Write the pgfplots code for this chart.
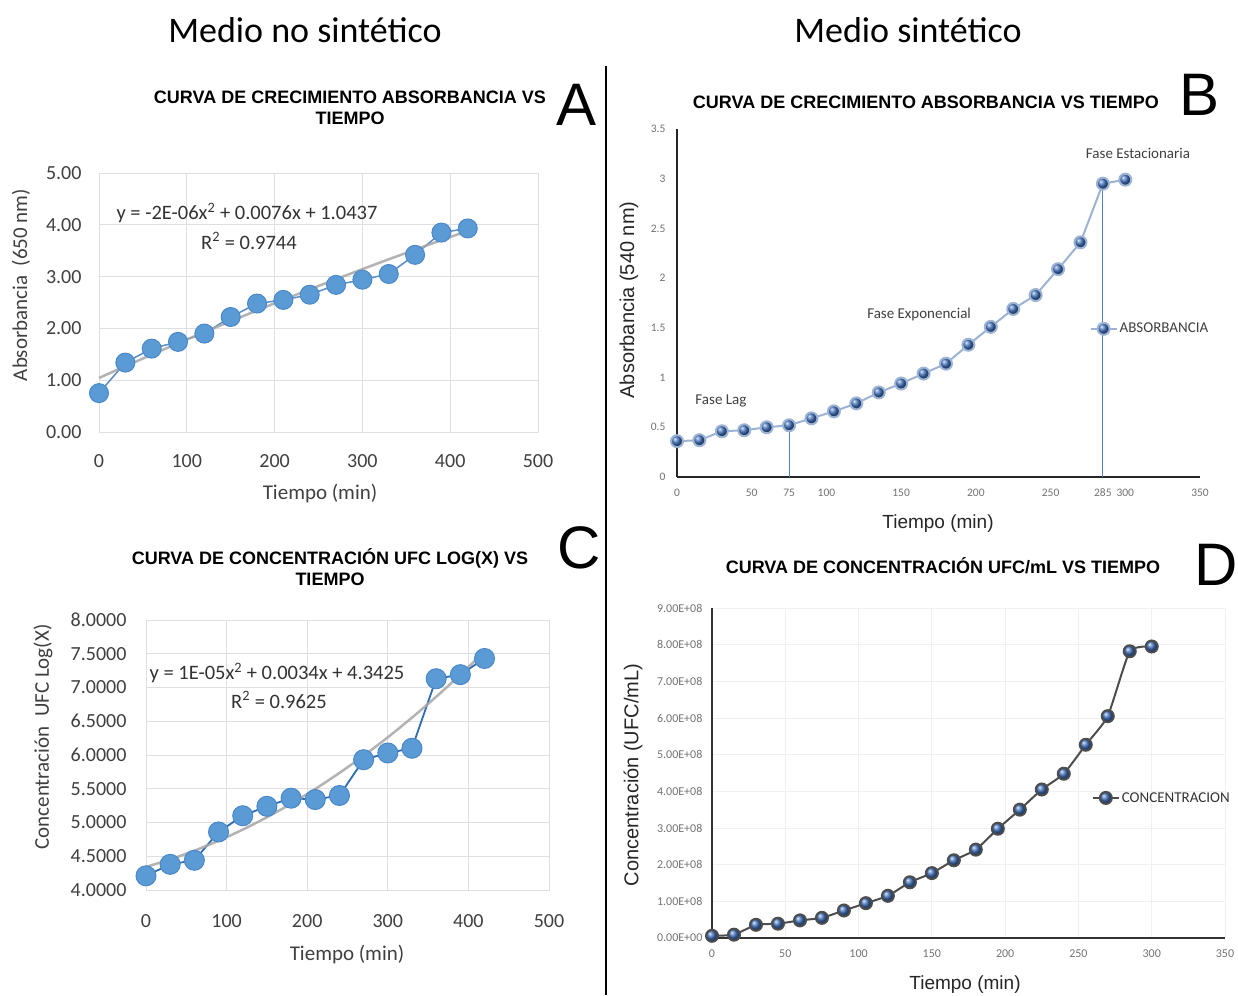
\documentclass[border=0pt]{standalone}
\usepackage{pgfplots}
\pgfplotsset{compat=1.18}
\usepackage{fontspec}
\setmainfont{Carlito}
\newfontfamily\arial{Liberation Sans}
\definecolor{excelblue}{HTML}{5B9BD5}
\definecolor{exceledge}{HTML}{4A88C8}
\definecolor{lineA}{HTML}{5A8CC8}
\definecolor{lineC}{HTML}{2E6DB4}
\definecolor{trend}{HTML}{A6A6A6}
\definecolor{ballblue}{HTML}{3C6DB8}
\definecolor{lineB}{HTML}{9DB3D3}
\definecolor{lineD}{HTML}{4D4D4D}
\definecolor{vline}{HTML}{4F81BD}
\begin{document}
\begin{tikzpicture}
\useasboundingbox[fill=white] (0pt,0pt) rectangle (1238pt,995pt);
% headers and divider
\node[font=\fontsize{36}{40}\selectfont] at (305pt,965pt) {Medio no sintético};
\node[font=\fontsize{36}{40}\selectfont] at (908pt,965pt) {Medio sintético};
\draw[line width=1.5pt] (606pt,0pt) -- (606pt,929pt);
% ---------------- Panel A ----------------
\node[font=\arial\bfseries\fontsize{18}{21}\selectfont, align=center] at (350pt,887.5pt) {CURVA DE CRECIMIENTO ABSORBANCIA VS\\TIEMPO};
\node[font=\arial\fontsize{60}{60}\selectfont] at (577pt,890pt) {A};
\begin{axis}[
  at={(99pt,563pt)}, anchor=south west,
  scale only axis, width=439pt, height=259pt,
  xmin=0, xmax=500, ymin=0, ymax=5,
  xtick={0,100,200,300,400,500}, ytick={0,1,2,3,4,5},
  grid=major, major grid style={draw=gray!25, line width=0.8pt},
  axis line style={draw=gray!25, line width=0.8pt},
  tick style={draw=none},
  clip=false,
  /pgf/number format/assume math mode=true,
  ticklabel style={font=\fontsize{20}{22}\selectfont, text=black!75},
  yticklabel style={/pgf/number format/fixed, /pgf/number format/fixed zerofill, /pgf/number format/precision=2, xshift=-14pt},
  xticklabel style={yshift=-19pt},
]
\addplot[lineA, line width=1.5pt, mark=*, mark size=9.5pt, mark options={fill=excelblue, draw=exceledge, line width=1pt}] coordinates {
(0,0.75)(30,1.34)(60,1.61)(90,1.74)(120,1.90)(150,2.22)(180,2.48)(210,2.55)(240,2.65)(270,2.84)(300,2.94)(330,3.05)(360,3.42)(390,3.85)(420,3.93)};
\addplot[trend, line width=2.5pt, smooth, opacity=0.85] coordinates {
(0,1.0437)(30,1.2699)(60,1.4925)(90,1.7115)(120,1.9269)(150,2.1387)(180,2.3469)(210,2.5515)(240,2.7525)(270,2.9499)(300,3.1437)(330,3.3339)(360,3.5205)(390,3.7035)(420,3.8829)};
\end{axis}
\node[font=\fontsize{20.5}{22}\selectfont, text=black!80] at (247pt,782pt) {y = -2E-06x\textsuperscript{2} + 0.0076x + 1.0437};
\node[font=\fontsize{20.5}{22}\selectfont, text=black!80] at (249pt,754pt) {R\textsuperscript{2} = 0.9744};
\node[font=\fontsize{21}{23}\selectfont, text=black!75] at (320pt,501pt) {Tiempo (min)};
\node[font=\fontsize{21}{23}\selectfont, text=black!75, rotate=90] at (21pt,710pt) {Absorbancia\ \ (650 nm)};
% ---------------- Panel C ----------------
\node[font=\arial\bfseries\fontsize{18}{21}\selectfont, align=center] at (330pt,427.5pt) {CURVA DE CONCENTRACIÓN UFC LOG(X) VS\\TIEMPO};
\node[font=\arial\fontsize{60}{60}\selectfont] at (579pt,447pt) {C};
\begin{axis}[
  at={(146pt,105pt)}, anchor=south west,
  scale only axis, width=403pt, height=270pt,
  xmin=0, xmax=500, ymin=4, ymax=8,
  xtick={0,100,200,300,400,500}, ytick={4,4.5,5,5.5,6,6.5,7,7.5,8},
  grid=major, major grid style={draw=gray!25, line width=0.8pt},
  axis line style={draw=gray!25, line width=0.8pt},
  tick style={draw=none},
  clip=false,
  /pgf/number format/assume math mode=true,
  ticklabel style={font=\fontsize{20}{22}\selectfont, text=black!75},
  yticklabel style={/pgf/number format/fixed, /pgf/number format/fixed zerofill, /pgf/number format/precision=4, xshift=-16pt},
  xticklabel style={yshift=-21pt},
]
\addplot[lineC, line width=1.8pt, mark=*, mark size=10pt, mark options={fill=excelblue, draw=exceledge, line width=1pt}] coordinates {
(0,4.21)(30,4.38)(60,4.44)(90,4.86)(120,5.10)(150,5.24)(180,5.36)(210,5.34)(240,5.40)(270,5.93)(300,6.03)(330,6.10)(360,7.13)(390,7.19)(420,7.43)};
\addplot[trend, line width=2.5pt, smooth, opacity=0.85] coordinates {
(0,4.3425)(30,4.4535)(60,4.5825)(90,4.7295)(120,4.8945)(150,5.0775)(180,5.2785)(210,5.4975)(240,5.7345)(270,5.9895)(300,6.2625)(330,6.5535)(360,6.8625)(390,7.1895)(420,7.5345)};
\end{axis}
\node[font=\fontsize{20.5}{22}\selectfont, text=black!80] at (277pt,322pt) {y = 1E-05x\textsuperscript{2} + 0.0034x + 4.3425};
\node[font=\fontsize{20.5}{22}\selectfont, text=black!80] at (279pt,295pt) {R\textsuperscript{2} = 0.9625};
\node[font=\fontsize{21}{23}\selectfont, text=black!75] at (347pt,40pt) {Tiempo (min)};
\node[font=\fontsize{21}{23}\selectfont, text=black!75, rotate=90] at (43pt,258pt) {Concentración\ \ UFC Log(X)};
% ---------------- Panel B ----------------
\node[font=\arial\bfseries\fontsize{18}{21}\selectfont] at (926pt,893pt) {CURVA DE CRECIMIENTO ABSORBANCIA VS TIEMPO};
\node[font=\arial\fontsize{60}{60}\selectfont] at (1199pt,900pt) {B};
\begin{axis}[
  at={(677pt,518pt)}, anchor=south west,
  scale only axis, width=523pt, height=348pt,
  xmin=0, xmax=350, ymin=0, ymax=3.5,
  axis x line=bottom, axis y line=left,
  axis line style={-, draw=black!85, line width=1.6pt},
  xtick={0,50,75,100,150,200,250,285,300,350},
  ytick={0,0.5,1,1.5,2,2.5,3,3.5},
  tick style={draw=none},
  clip=false,
  /pgf/number format/assume math mode=true,
  ticklabel style={font=\fontsize{11.5}{12}\selectfont, text=black!55},
  xticklabel style={yshift=-6pt},
  yticklabel style={xshift=-6pt},
  legend style={at={(axis cs:276,1.49)}, anchor=west, draw=none, fill=none, inner sep=0pt, font=\fontsize{15}{17}\selectfont, text=black!75},
  legend image code/.code={\draw[mark repeat=2,mark phase=2,#1] plot coordinates {(0pt,0pt) (13pt,0pt) (26pt,0pt)};},
]
\addplot[vline, line width=1.1pt, forget plot] coordinates {(75,0)(75,0.52)};
\addplot[vline, line width=1.1pt, forget plot] coordinates {(285,0)(285,2.95)};
\addplot[lineB, line width=2pt, mark=ball, mark size=6pt, mark options={ball color=ballblue}] coordinates {
(0,0.36)(15,0.37)(30,0.46)(45,0.47)(60,0.50)(75,0.52)(90,0.59)(105,0.66)(120,0.74)(135,0.85)(150,0.94)(165,1.04)(180,1.14)(195,1.33)(210,1.51)(225,1.69)(240,1.83)(255,2.09)(270,2.36)(285,2.95)(300,2.99)};
\addlegendentry{ABSORBANCIA}
\node[font=\fontsize{15}{17}\selectfont, text=black!75] at (axis cs:29.4,0.76) {Fase Lag};
\node[font=\fontsize{15}{17}\selectfont, text=black!75] at (axis cs:162,1.63) {Fase Exponencial};
\node[font=\fontsize{15}{17}\selectfont, text=black!75] at (axis cs:308.5,3.25) {Fase Estacionaria};
\end{axis}
\node[font=\arial\fontsize{19}{21}\selectfont, text=black!85] at (938pt,471pt) {Tiempo (min)};
\node[font=\arial\fontsize{20}{22}\selectfont, text=black!85, rotate=90] at (629pt,695pt) {Absorbancia (540 nm)};
% ---------------- Panel D ----------------
\node[font=\arial\bfseries\fontsize{18}{21}\selectfont] at (943pt,429pt) {CURVA DE CONCENTRACIÓN UFC/mL VS TIEMPO};
\node[font=\arial\fontsize{60}{60}\selectfont] at (1216pt,430pt) {D};
\begin{axis}[
  at={(712pt,57pt)}, anchor=south west,
  scale only axis, width=513pt, height=330pt,
  xmin=0, xmax=350, ymin=0, ymax=9e8,
  axis x line=bottom, axis y line=left,
  axis line style={-, draw=black!80, line width=2pt},
  xtick={0,50,100,150,200,250,300,350},
  ytick={0,1e8,2e8,3e8,4e8,5e8,6e8,7e8,8e8,9e8},
  yticklabels={0.00E+00,1.00E+08,2.00E+08,3.00E+08,4.00E+08,5.00E+08,6.00E+08,7.00E+08,8.00E+08,9.00E+08},
  scaled y ticks=false,
  grid=major, major grid style={draw=gray!12, line width=0.8pt},
  tick style={draw=none},
  clip=false,
  /pgf/number format/assume math mode=true,
  ticklabel style={font=\fontsize{12}{13}\selectfont, text=black!55},
  xticklabel style={yshift=-6pt},
  yticklabel style={xshift=-4pt},
  legend style={at={(axis cs:259,3.82e8)}, anchor=west, draw=none, fill=none, inner sep=0pt, font=\fontsize{15}{17}\selectfont, text=black!80},
  legend image code/.code={\draw[mark repeat=2,mark phase=2,#1] plot coordinates {(0pt,0pt) (13pt,0pt) (26pt,0pt)};},
]
\addplot[lineD, line width=2pt, smooth, tension=0.3, mark=ball, mark size=6pt, mark options={ball color=ballblue}] coordinates {
(0,0.06e8)(15,0.09e8)(30,0.36e8)(45,0.39e8)(60,0.48e8)(75,0.55e8)(90,0.75e8)(105,0.95e8)(120,1.15e8)(135,1.52e8)(150,1.77e8)(165,2.12e8)(180,2.41e8)(195,2.98e8)(210,3.50e8)(225,4.05e8)(240,4.48e8)(255,5.27e8)(270,6.05e8)(285,7.82e8)(300,7.95e8)};
\addlegendentry{CONCENTRACION}
\end{axis}
\node[font=\arial\fontsize{19}{21}\selectfont, text=black!85] at (965pt,10pt) {Tiempo (min)};
\node[font=\arial\fontsize{20}{22}\selectfont, text=black!85, rotate=90] at (633pt,220pt) {Concentración (UFC/mL)};
\end{tikzpicture}
\end{document}
